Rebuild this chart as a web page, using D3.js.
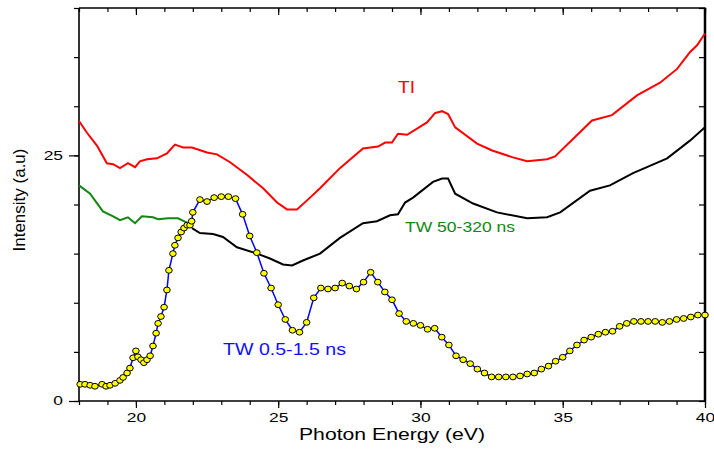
<!DOCTYPE html>
<html>
<head>
<meta charset="utf-8">
<script src="https://cdn.jsdelivr.net/npm/d3@7"></script>
<style>
body { margin:0; background:#fff; }
svg { font-family: "Liberation Sans", Arial, sans-serif; }
</style>
</head>
<body>
<svg id="chart"></svg>
<script>
// TI spectrum (red)
var tiData = [[18.0,28.5],[18.28,27.3],[18.63,26.0],[18.98,24.2],[19.2,24.1],[19.44,23.7],[19.72,24.2],
    [19.97,23.8],[20.14,24.4],[20.39,24.6],[20.74,24.7],[21.09,25.2],[21.37,26.1],[21.66,25.8],[21.97,25.8],
    [22.5,25.3],[22.85,25.1],[23.31,24.3],[23.91,23.0],[24.47,21.65],[24.96,20.2],[25.31,19.5],[25.66,19.5],
    [26.12,20.7],[26.47,21.65],[27.17,23.7],[27.98,25.7],[28.51,25.9],[28.76,26.3],[29.0,26.3],[29.21,27.2],
    [29.53,27.1],[30.23,28.35],[30.51,29.3],[30.76,29.5],[30.97,29.2],[31.22,27.85],[31.99,26.2],[32.52,25.5],
    [33.25,24.8],[33.75,24.4],[34.45,24.6],[34.73,24.9],[36.03,28.55],[36.73,29.1],[37.61,31.1],[38.42,32.4],
    [39.02,33.8],[39.47,35.5],[39.72,36.2],[40.0,37.4]];

// TW 50-320 ns, early part (green) and the rest (black)
var tw50Green = [[18.0,21.95],[18.39,21.1],[18.84,19.3],[19.2,18.8],[19.44,18.4],[19.72,18.7],[19.97,18.1],
    [20.21,18.8],[20.6,18.7],[20.78,18.5],[21.13,18.6],[21.48,18.6],[21.83,18.1]];
var tw50Black = [[21.97,17.6],[22.25,17.1],[22.71,17.0],[23.06,16.7],[23.55,15.65],[24.26,15.0],[24.71,14.5],
    [25.17,13.9],[25.49,13.8],[25.87,14.3],[26.47,15.0],[27.17,16.6],[27.98,18.1],[28.47,18.3],[28.93,18.9],
    [29.21,19.0],[29.46,20.2],[29.74,20.7],[30.44,22.3],[30.76,22.65],[30.97,22.65],[31.22,21.1],[31.85,20.1],
    [32.69,19.2],[33.75,18.6],[34.45,18.7],[34.91,19.2],[35.96,21.4],[36.66,21.95],[37.47,23.2],[38.67,24.7],
    [39.47,26.5],[40.0,27.85]];

// TW 0.5-1.5 ns (blue line, yellow markers)
var tw05Data = [[18.04,1.7],[18.21,1.7],[18.39,1.6],[18.56,1.5],[18.81,1.7],[18.95,1.5],[19.09,1.6],[19.27,1.8],
    [19.44,2.1],[19.55,2.4],[19.69,2.85],[19.79,3.35],[19.9,4.4],[20.0,5.1],[20.07,4.5],[20.18,4.2],[20.28,3.9],
    [20.39,4.2],[20.5,4.6],[20.6,5.6],[20.71,6.9],[20.78,7.9],[20.88,8.6],[20.99,9.55],[21.09,11.3],[21.16,13.3],
    [21.3,15.0],[21.37,15.85],[21.48,16.6],[21.59,17.2],[21.69,17.6],[21.8,17.9],[21.9,17.9],[21.96,18.3],
    [22.0,19.2],[22.25,20.5],[22.5,20.3],[22.75,20.7],[23.0,20.8],[23.25,20.8],[23.5,20.6],[23.75,19.0],
    [24.0,16.8],[24.25,15.1],[24.5,13.0],[24.75,11.5],[25.0,9.8],[25.25,8.3],[25.5,7.2],[25.75,7.0],[26.0,8.0],
    [26.25,10.5],[26.5,11.5],[26.75,11.4],[27.0,11.5],[27.25,12.0],[27.5,11.7],[27.75,11.4],[28.0,12.1],
    [28.25,13.1],[28.5,12.1],[28.75,11.1],[29.0,10.3],[29.25,8.9],[29.5,8.1],[29.75,7.9],[30.0,7.7],[30.25,7.3],
    [30.5,7.4],[30.75,6.5],[31.0,5.7],[31.25,4.6],[31.5,4.2],[31.75,3.8],[32.0,3.25],[32.25,2.85],[32.5,2.45],
    [32.75,2.45],[33.0,2.45],[33.25,2.45],[33.5,2.55],[33.75,2.75],[34.0,2.85],[34.25,3.25],[34.5,3.55],
    [34.75,4.05],[35.0,4.45],[35.25,5.1],[35.5,5.7],[35.75,6.2],[36.0,6.5],[36.25,6.8],[36.5,7.0],[36.75,7.1],
    [37.0,7.6],[37.25,7.9],[37.5,8.1],[37.75,8.1],[38.0,8.1],[38.25,8.1],[38.5,8.0],[38.75,8.1],[39.0,8.3],
    [39.25,8.4],[39.5,8.55],[39.75,8.75],[40.0,8.75]];

var xMinorTicks = d3.range(18, 41, 1);
var xMajorTicks = [20, 25, 30, 35, 40];
var yMinorTicks = d3.range(0, 41, 5);
var yMajorTicks = [0, 25];

var screen = {width:714, height:452};
var margins = {top:8, bottom:51, left:79, right:9};
var graph = {
    width: screen.width - margins.left - margins.right,
    height: screen.height - margins.top - margins.bottom
};

var svg = d3.select("#chart")
    .attr("width", screen.width)
    .attr("height", screen.height);

var xScale = d3.scaleLinear().domain([18, 40]).range([0, graph.width]);
var yScale = d3.scaleLinear().domain([0, 40]).range([graph.height, 0]);

var g = svg.append("g")
    .attr("transform", "translate(" + margins.left + "," + margins.top + ")");

// stretch tick labels a bit, the original font is wide
var widen = function(sel, k)
{
    sel.selectAll("text").each(function()
    {
        var len = this.getComputedTextLength();
        d3.select(this).attr("textLength", len * k).attr("lengthAdjust", "spacingAndGlyphs");
    });
};

var styleAxis = function(sel)
{
    sel.select(".domain").remove();
    sel.selectAll("line").attr("stroke", "#000").attr("stroke-width", 1.2);
    sel.selectAll("text").style("font-size", "12px").attr("fill", "#000");
};

// bottom
g.append("g").attr("transform", "translate(0," + graph.height + ")")
    .call(d3.axisBottom(xScale).tickValues(xMinorTicks).tickSize(4).tickFormat(""))
    .call(styleAxis);
var xb = g.append("g").attr("transform", "translate(0," + graph.height + ")")
    .call(d3.axisBottom(xScale).tickValues(xMajorTicks).tickSize(7).tickPadding(5).tickFormat(d3.format("d")))
    .call(styleAxis);
widen(xb, 1.45);

// top (inward)
g.append("g")
    .call(d3.axisTop(xScale).tickValues(xMinorTicks).tickSize(-4).tickFormat(""))
    .call(styleAxis);
g.append("g")
    .call(d3.axisTop(xScale).tickValues(xMajorTicks).tickSize(-7).tickFormat(""))
    .call(styleAxis);

// left
g.append("g")
    .call(d3.axisLeft(yScale).tickValues(yMinorTicks).tickSize(5).tickFormat(""))
    .call(styleAxis);
var yl = g.append("g")
    .call(d3.axisLeft(yScale).tickValues(yMajorTicks).tickSize(10).tickPadding(6).tickFormat(d3.format("d")))
    .call(styleAxis);
widen(yl, 1.45);

// right (inward)
g.append("g").attr("transform", "translate(" + graph.width + ",0)")
    .call(d3.axisRight(yScale).tickValues(yMinorTicks).tickSize(-6).tickFormat(""))
    .call(styleAxis);

// frame
g.append("path")
    .attr("d", "M0,0V" + graph.height + "H" + graph.width)
    .attr("fill", "none").attr("stroke", "#000").attr("stroke-width", 1.6);
g.append("path")
    .attr("d", "M0,0H" + graph.width + "V" + graph.height)
    .attr("fill", "none").attr("stroke", "#000").attr("stroke-width", 1.3);
g.append("line")
    .attr("x1", graph.width).attr("x2", graph.width)
    .attr("y1", 0).attr("y2", graph.height)
    .attr("stroke", "#000").attr("stroke-width", 2.5);

var line = d3.line()
    .x(function(d) { return xScale(d[0]); })
    .y(function(d) { return yScale(d[1]); });

g.append("path").datum(tiData)
    .attr("d", line).attr("fill", "none").attr("stroke", "#ff0000").attr("stroke-width", 2);
g.append("path").datum(tw50Black)
    .attr("d", line).attr("fill", "none").attr("stroke", "#000").attr("stroke-width", 2);
g.append("path").datum(tw50Green)
    .attr("d", line).attr("fill", "none").attr("stroke", "#108810").attr("stroke-width", 2);
g.append("path").datum(tw05Data)
    .attr("d", line).attr("fill", "none").attr("stroke", "#0000ff").attr("stroke-width", 1.5);

g.append("g").selectAll("ellipse")
    .data(tw05Data)
    .enter()
    .append("ellipse")
    .attr("cx", function(d) { return xScale(d[0]); })
    .attr("cy", function(d) { return yScale(d[1]); })
    .attr("rx", 3.3)
    .attr("ry", 2.9)
    .attr("fill", "#ffff00")
    .attr("stroke", "#000")
    .attr("stroke-width", 1);

// labels
var addLabel = function(txt, x, y, size, color, len)
{
    svg.append("text")
        .attr("x", x).attr("y", y)
        .attr("fill", color)
        .style("font-size", size + "px")
        .attr("textLength", len)
        .attr("lengthAdjust", "spacingAndGlyphs")
        .text(txt);
};
addLabel("TI", 398, 93, 16, "#ff0000", 17);
addLabel("TW 50-320 ns", 405, 232, 14, "#108810", 110);
addLabel("TW 0.5-1.5 ns", 223, 355, 16, "#1010ff", 123);
addLabel("Photon Energy (eV)", 299, 440, 16.5, "#000", 186);

svg.append("text")
    .attr("transform", "translate(25,200) rotate(-90)")
    .attr("text-anchor", "middle")
    .style("font-size", "17px")
    .attr("fill", "#000")
    .text("Intensity (a.u)");
</script>
</body>
</html>
